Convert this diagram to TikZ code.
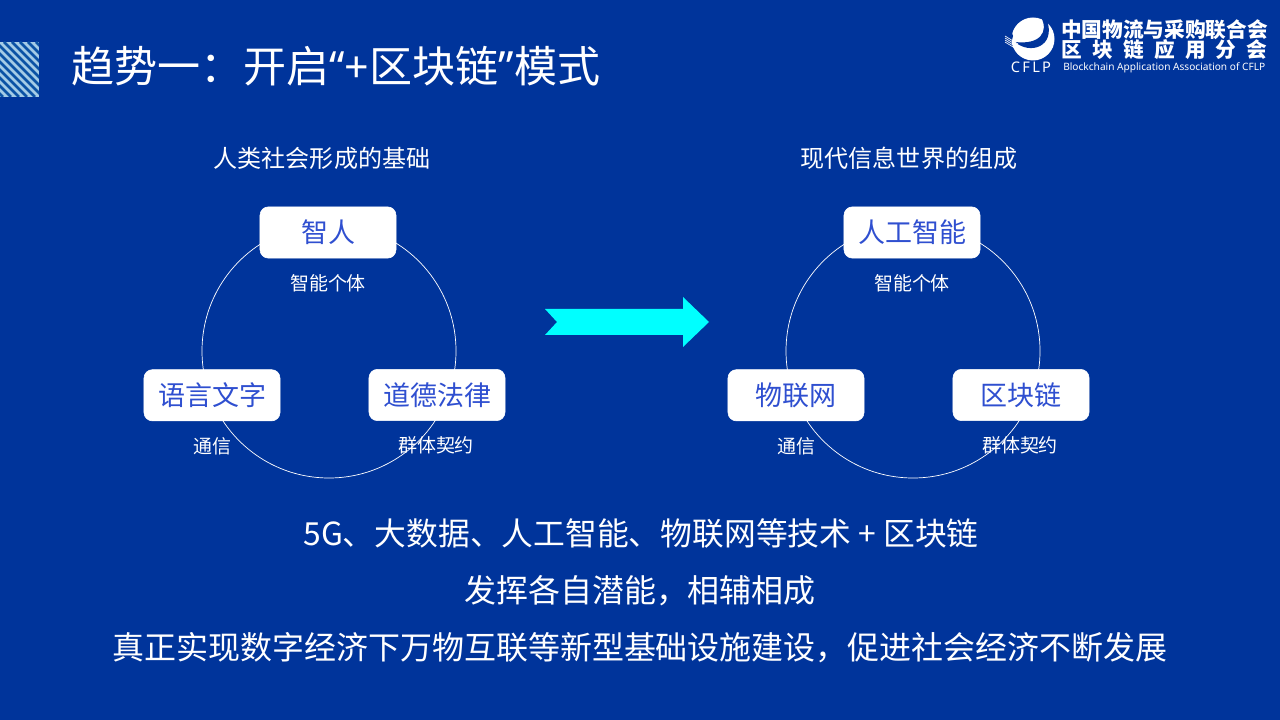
\documentclass[tikz,border=0pt]{standalone}
\usepackage{fontspec}
\setmainfont{Noto Sans CJK SC}
\newfontfamily\latinfont{Noto Sans}
\usepackage{xcolor}
\definecolor{bgblue}{HTML}{00349B}
\definecolor{boxblue}{HTML}{2F4FD0}
\definecolor{hatchblue}{HTML}{A4CBE6}
\definecolor{hatchdark}{HTML}{0B52A5}
\definecolor{arrowcyan}{HTML}{00FFFF}
\usetikzlibrary{arrows.meta}
\tikzset{
  capbox/.style={draw=white,fill=white,rounded corners=6pt,minimum width=3.4cm,minimum height=1.28cm,inner sep=0pt,text=boxblue,font=\fontsize{19.2}{24}\selectfont},
  sublabel/.style={text=white,inner sep=0pt,font=\fontsize{13.5}{16}\selectfont},
  headlabel/.style={text=white,inner sep=0pt,font=\fontsize{17.1}{20}\selectfont},
  bodyline/.style={text=white,inner sep=0pt,font=\fontsize{22.75}{27}\selectfont},
  ring/.style={draw=white,line width=0.5pt},
  logoline/.style={anchor=west,text=white,inner sep=0pt,font=\fontsize{14.7}{16}\bfseries\selectfont},
}
\begin{document}
\begin{tikzpicture}[x=0.025cm,y=-0.025cm]
  \useasboundingbox (0,0) rectangle (1280,720);
  \fill[bgblue] (0,0) rectangle (1280,720);
  % corner mark
  \begin{scope}
    \clip (0,42) rectangle (39,97);
    \fill[hatchblue] (0,42) rectangle (39,97);
    \foreach \d in {-60,-52,...,40}
      \draw[hatchdark,line width=1.9pt] (\d,42) -- (\d+55,97);
  \end{scope}
  \node[anchor=west,text=white,inner sep=0pt,font=\fontsize{30.6}{36}\selectfont] (title) at (71,66) {趋势一：开启{\latinfont “+}区块链{\latinfont ”}模式};
  % logo
  \fill[white] (1033,39) circle (21.5);
  \fill[bgblue] (1041,17) .. controls (1049,32) and (1040,45) .. (1015,42) .. controls (1030,55) and (1056,47) .. (1047,20) -- cycle;
  \fill[bgblue] (1011,44) -- (1013,36) -- (1011,30) -- (1006,44) -- cycle;
  \foreach \d in {0,2,4,6}
    \draw[white,line width=0.45pt] (1005,36+\d) -- (1018,44+\d);
  \node[text=white,inner sep=0pt,font=\fontsize{10.4}{12}\bfseries\latinfont] (cflp) at (1031,67) {C\hspace{1.6pt}F\hspace{1.6pt}L\hspace{1.6pt}P};
  \node[logoline] (logoa) at (1061,30) {中国物流与采购联合会};
  \node[logoline] (logob) at (1061,50) {区\hspace{7.3pt}块\hspace{7.3pt}链\hspace{7.3pt}应\hspace{7.3pt}用\hspace{7.3pt}分\hspace{7.3pt}会};
  \node[anchor=west,text=white,inner sep=0pt,font=\fontsize{7.2}{8}\latinfont] (logoc) at (1063,68) {Blockchain Application Association of CFLP};
  % left ring
  \node[headlabel] (headl) at (322,158) {人类社会形成的基础};
  \draw[ring] (329,351) circle (127);
  \node[capbox] (sapiens) at (328,232.5) {智人};
  \node[capbox] (lang) at (212,395.3) {语言文字};
  \node[capbox] (law) at (437,395) {道德法律};
  \node[sublabel] (subla) at (328,283) {智能个体};
  \node[sublabel] (sublb) at (212,446) {通信};
  \node[sublabel] (sublc) at (436,445) {群体契约};
  % right ring
  \node[headlabel] (headr) at (909,158) {现代信息世界的组成};
  \draw[ring] (913,351) circle (127);
  \node[capbox] (ai) at (912,232.5) {人工智能};
  \node[capbox] (iot) at (796,395.3) {物联网};
  \node[capbox] (chain) at (1021,395) {区块链};
  \node[sublabel] (subra) at (912,283) {智能个体};
  \node[sublabel] (subrb) at (796,446) {通信};
  \node[sublabel] (subrc) at (1020,445) {群体契约};
  % big arrow
  \fill[arrowcyan] (545,309) -- (683,309) -- (683,297) -- (709,322) -- (683,347) -- (683,335) -- (545,335) -- (557,322) -- cycle;
  % bottom lines
  \node[bodyline,font=\fontsize{22.6}{27}\selectfont] (linea) at (641,533.5) {5G、大数据、人工智能、物联网等技术 + 区块链};
  \node[bodyline] (lineb) at (640,591) {发挥各自潜能，相辅相成};
  \node[bodyline] (linec) at (640,648) {真正实现数字经济下万物互联等新型基础设施建设，促进社会经济不断发展};
\end{tikzpicture}
\end{document}
